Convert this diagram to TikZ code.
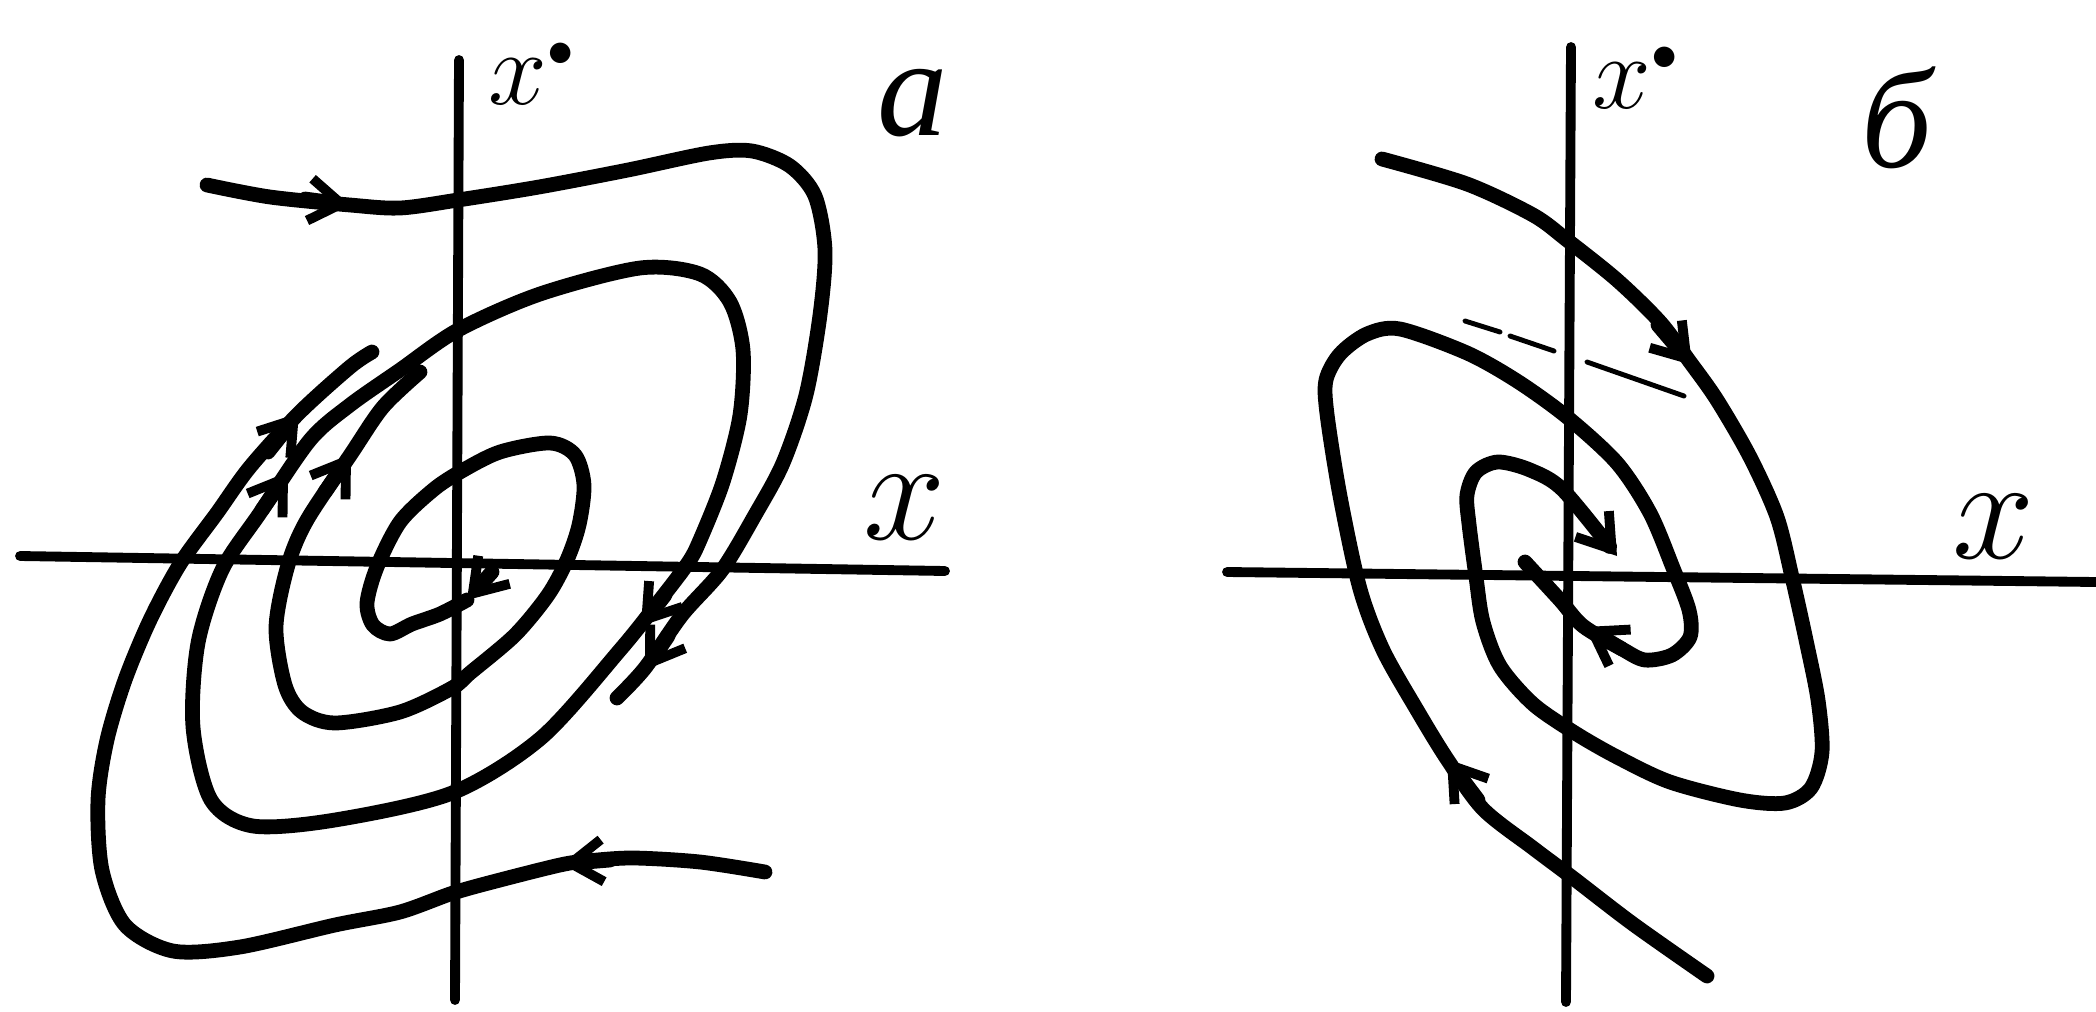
\RequirePackage{fix-cm}
\documentclass[tikz,border=0pt]{standalone}
\usepackage{fontspec}
\newfontfamily\cyrfont{Liberation Serif}
\usetikzlibrary{arrows.meta}
\begin{document}
\begin{tikzpicture}[x=0.01cm,y=-0.01cm,
  axis/.style={line width=2.8pt,line cap=round},
  traj/.style={line width=4.2pt,line cap=round,line join=round},
  barb/.style={traj,-{Straight Barb[length=9pt,width=12pt,line width=2.8pt]}},
  faint/.style={line width=1.4pt,line cap=round},
  lbl/.style={inner sep=0pt,anchor=center}]
\useasboundingbox (0,0) rectangle (2096,1012);
\draw[axis] (459,60) -- (455,1000);
\draw[axis] (20,556) -- (945,571);
\node[lbl,font=\fontsize{30}{30}\selectfont] (xdota) at (532,74) {$x^{\scriptscriptstyle\bullet}$};
\node[lbl,font=\fontsize{40}{40}\selectfont\cyrfont\itshape] (laba) at (913,103) {а};
\node[lbl,font=\fontsize{42}{42}\selectfont] (xa) at (905,508) {$x$};
\draw[traj] plot[smooth] coordinates {(207,185) (270,197) (350,205) (400,208) (458,200) (539,187) (628,170) (709,153) (752,151) (790,166) (815,196) (825,250) (820,315) (806,395) (783,463) (755,515) (722,570) (682,615) (645,668) (617,698)};
\draw[traj] plot[smooth cycle] coordinates {(458,330) (540,294) (640,268) (700,274) (730,302) (743,350) (740,415) (723,482) (700,540) (688,563) (660,600) (620,650) (541,738) (452,793) (335,820) (253,826) (211,800) (193,727) (198,643) (222,570) (260,513) (310,440) (350,405) (400,370)};
\draw[traj] plot[smooth] coordinates {(765,872) (700,862) (633,858) (587,861) (560,865) (500,880) (453,893) (400,912) (335,925) (240,947) (173,951) (125,925) (102,870) (98,800) (107,740) (125,680) (150,620) (180,564) (217,513) (250,467) (299,413) (350,367) (372,352)};
\draw[traj] plot[smooth] coordinates {(467,600) (440,614) (412,624) (390,634) (373,625) (367,603) (377,567) (400,522) (433,490) (460,472) (500,452) (550,443) (575,455) (584,485) (579,525) (567,560) (548,595) (515,635) (470,673) (452,688) (400,712) (335,723) (302,712) (285,685) (276,627) (288,565) (307,520) (351,454) (383,407) (420,372)};
\draw[barb] (305,199) -- (350,205);
\draw[barb] (668,636) -- (645,670);
\draw[barb] (665,595) -- (641,626);
\draw[barb] (610,860) -- (562,864);
\draw[barb] (268,452) -- (299,413);
\draw[barb] (262,510) -- (288,472);
\draw[barb] (325,492) -- (351,454);
\draw[barb] (492,572) -- (467,600);
\draw[axis] (1571,47) -- (1566,1002);
\draw[axis] (1227,572) -- (2096,582);
\node[lbl,font=\fontsize{30}{30}\selectfont] (xdotb) at (1636,78) {$x^{\scriptscriptstyle\bullet}$};
\node[lbl,font=\fontsize{40}{40}\selectfont\cyrfont\itshape] (labb) at (1897,118) {б};
\node[lbl,font=\fontsize{42}{42}\selectfont] (xb) at (1994,527) {$x$};
\draw[barb] plot[smooth] coordinates {(1382,159) (1467,184) (1533,215) (1567,240) (1617,280) (1660,322) (1690,362) (1717,400) (1750,457) (1777,517) (1792,577) (1806,640) (1818,700) (1822,752) (1811,788) (1785,803) (1740,800) (1670,782) (1617,757) (1575,733) (1533,704) (1500,666) (1483,622) (1476,577) (1469,524) (1467,495) (1476,472) (1498,462) (1530,470) (1563,490) (1617,556)};
\draw[traj] plot[smooth] coordinates {(1707,976) (1633,924) (1573,878) (1533,848) (1483,809) (1447,759) (1417,710) (1383,650) (1360,589) (1340,496) (1327,414) (1326,380) (1340,354) (1367,334) (1400,329) (1467,353) (1517,381) (1567,417) (1617,463) (1650,513) (1673,568) (1689,610) (1690,637) (1672,655) (1645,660) (1622,649) (1583,626) (1560,600) (1525,562)};
\draw[barb] (1658,325) -- (1692,365);
\draw[barb] (1478,800) -- (1447,759);
\draw[barb] (1622,649) -- (1585,627);
\draw[faint] (1465,321) -- (1500,332) (1510,336) -- (1554,351) (1587,362) -- (1684,396);
\end{tikzpicture}
\end{document}
